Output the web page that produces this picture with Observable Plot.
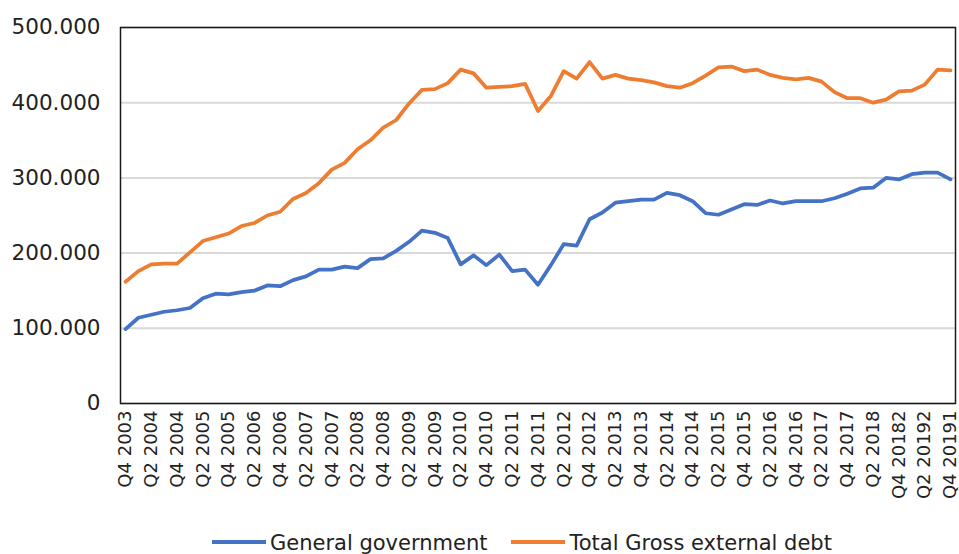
<!DOCTYPE html>
<html>
<head>
<meta charset="utf-8">
<script src="https://cdn.jsdelivr.net/npm/d3@7"></script>
<script src="https://cdn.jsdelivr.net/npm/@observablehq/plot@0.6"></script>
<style>
  body { margin: 0; background: #fff; font-family: "DejaVu Sans", Verdana, sans-serif; }
  #chart svg { display: block; }
  .legend { height: 24px; line-height: 24px; font-size: 21px; color: #222; padding-left: 212px; padding-top: 1px; white-space: nowrap; }
  .item { display: inline-block; margin-right: 24px; }
  .swatch { display: inline-block; width: 54px; height: 4px; vertical-align: middle; margin-right: 4px; position: relative; top: -2px; }
</style>
</head>
<body>
<div id="chart"></div>
<div class="legend">
  <span class="item"><span class="swatch" style="background:#4472C4"></span>General government</span><span class="item"><span class="swatch" style="background:#ED7D31"></span>Total Gross external debt</span>
</div>
<script>
// Quarterly data, Q4 2003 .. Q4 2019 (65 quarters), values in thousands
const generalGovernment = [99,114,118,122,124,127,140,146,145,148,150,157,156,164,169,178,178,182,180,192,193,203,215,230,227,220,185,197,184,198,176,178,158,184,212,210,245,254,267,269,271,271,280,277,269,253,251,258,265,264,270,266,269,269,269,273,279,286,287,300,298,305,307,307,298];
const totalGross = [162,176,185,186,186,201,216,221,226,236,240,250,255,272,280,293,311,320,338,350,367,377,399,417,418,426,444,439,420,421,422,425,389,409,442,432,454,432,437,432,430,427,422,420,426,436,447,448,442,444,437,433,431,433,428,414,406,406,400,404,415,416,424,444,443];
// Tick labels shown on every second quarter
const tickLabels = ["Q4 2003","Q2 2004","Q4 2004","Q2 2005","Q4 2005","Q2 2006","Q4 2006","Q2 2007","Q4 2007","Q2 2008","Q4 2008","Q2 2009","Q4 2009","Q2 2010","Q4 2010","Q2 2011","Q4 2011","Q2 2012","Q4 2012","Q2 2013","Q4 2013","Q2 2014","Q4 2014","Q2 2015","Q4 2015","Q2 2016","Q4 2016","Q2 2017","Q4 2017","Q2 2018","Q4 20182","Q2 20192","Q4 20191"];
const yTicks = [0,100,200,300,400,500];
const seriesNames = ["General government","Total Gross external debt"];
const seriesColors = ["#4472C4","#ED7D31"];

const rows = [
  ...generalGovernment.map((v, i) => ({i, v, s: seriesNames[0]})),
  ...totalGross.map((v, i) => ({i, v, s: seriesNames[1]}))
];

const chart = Plot.plot({
  width: 959,
  height: 530,
  marginLeft: 120,
  marginRight: 4,
  marginTop: 27,
  marginBottom: 127,
  style: {fontFamily: "DejaVu Sans, Verdana, sans-serif", color: "#222", background: "#fff"},
  x: {domain: [0, generalGovernment.length - 1], insetLeft: 5, insetRight: 5},
  y: {domain: [0, 500]},
  color: {domain: seriesNames, range: seriesColors},
  marks: [
    Plot.gridY(yTicks, {stroke: "#d9d9d9", strokeOpacity: 1, strokeWidth: 2}),
    Plot.frame({stroke: "#1a1a1a", strokeWidth: 1.5}),
    Plot.line(rows, {x: "i", y: "v", z: "s", stroke: "s", strokeWidth: 3.75, strokeLinejoin: "round"}),
    Plot.axisY(yTicks, {tickSize: 0, tickPadding: 20, fontSize: 21.5, tickFormat: d => d === 0 ? "0" : d + ".000", label: null}),
    Plot.axisX(d3.range(0, generalGovernment.length, 2), {tickSize: 0, tickPadding: 7, tickRotate: -90, fontSize: 18, tickFormat: i => tickLabels[i / 2], label: null})
  ]
});
document.getElementById("chart").appendChild(chart);
</script>
</body>
</html>
